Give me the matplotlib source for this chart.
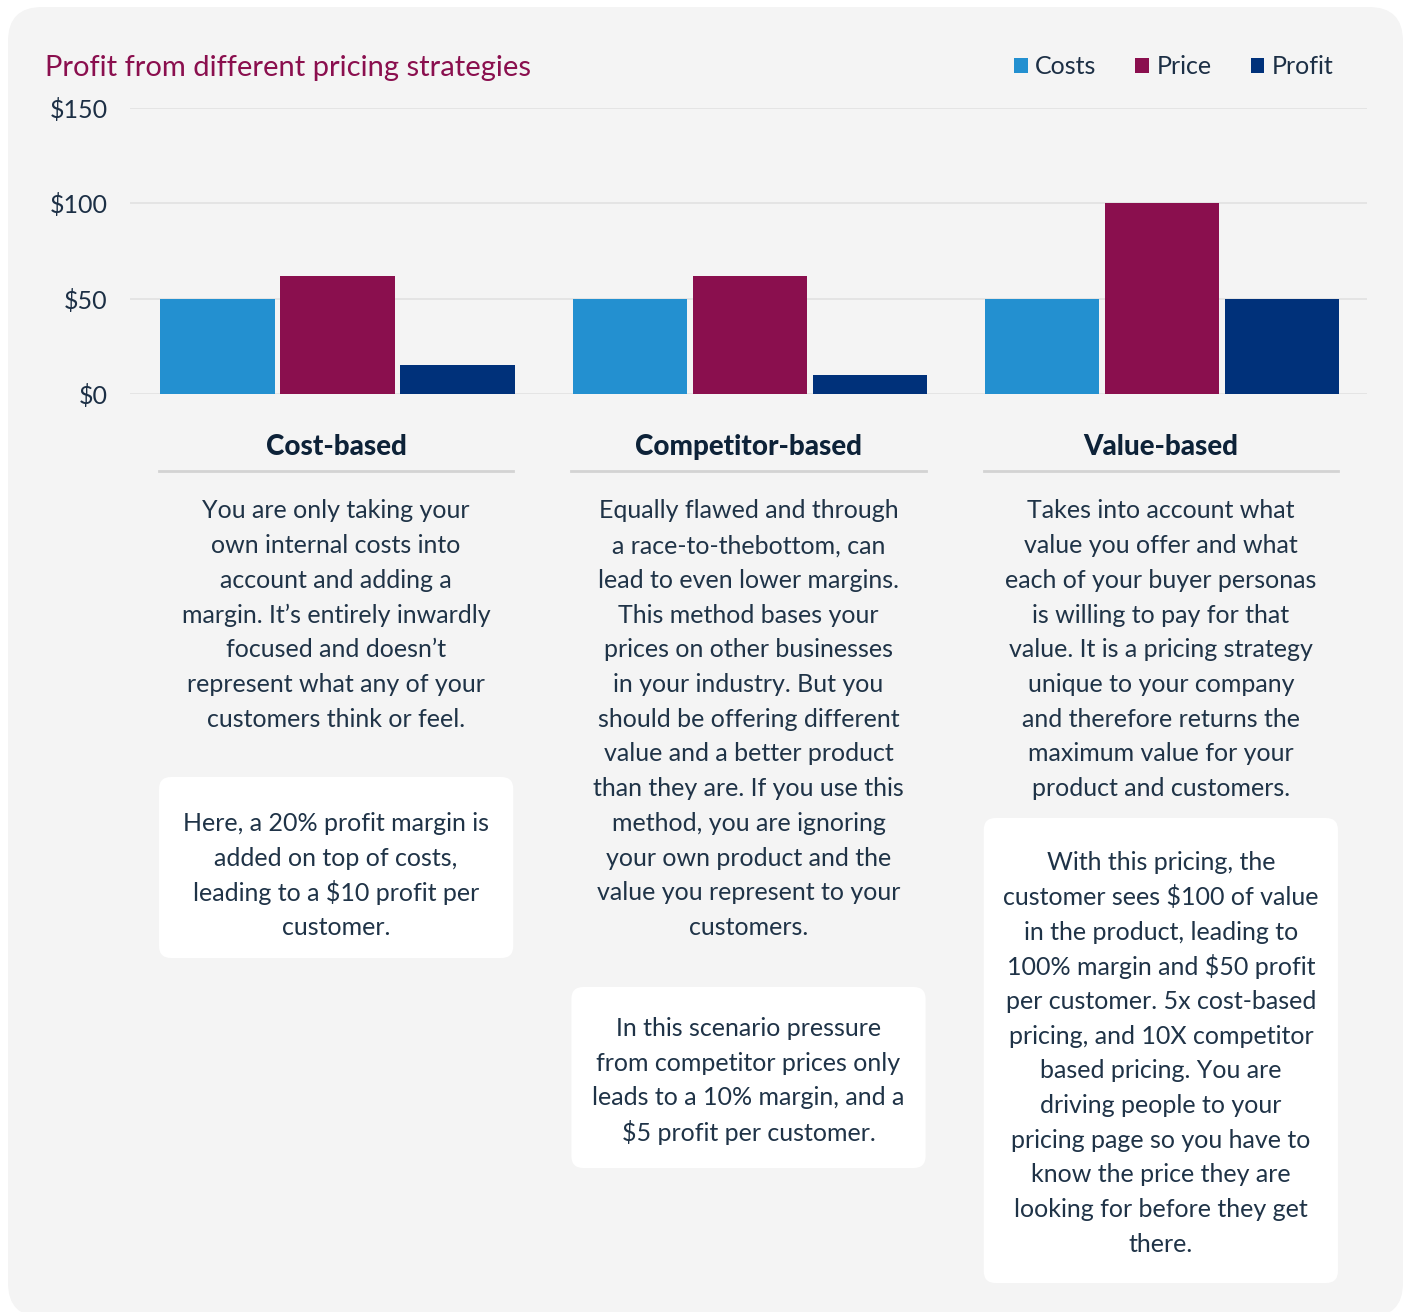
import matplotlib.pyplot as plt
import numpy as np
from matplotlib.patches import FancyBboxPatch

plt.rcParams['font.family'] = ['Lato', 'DejaVu Sans']

categories = ['Cost-based', 'Competitor-based', 'Value-based']
costs = [50, 50, 50]
price = [62, 62, 100]
profit = [15, 10, 50]
series_names = ['Costs', 'Price', 'Profit']
series_colors = ['#2390d0', '#8a0f4e', '#00317a']
yticks = [0, 50, 100, 150]

descriptions = [
    ["You are only taking your", "own internal costs into", "account and adding a",
     "margin. It’s entirely inwardly", "focused and doesn’t",
     "represent what any of your", "customers think or feel."],
    ["Equally flawed and through", "a race-to-thebottom, can", "lead to even lower margins.",
     "This method bases your", "prices on other businesses", "in your industry. But you",
     "should be offering different", "value and a better product",
     "than they are. If you use this", "method, you are ignoring",
     "your own product and the", "value you represent to your", "customers."],
    ["Takes into account what", "value you offer and what", "each of your buyer personas",
     "is willing to pay for that", "value. It is a pricing strategy",
     "unique to your company", "and therefore returns the",
     "maximum value for your", "product and customers."],
]
notes = [
    ["Here, a 20% profit margin is", "added on top of costs,",
     "leading to a $10 profit per", "customer."],
    ["In this scenario pressure", "from competitor prices only",
     "leads to a 10% margin, and a", "$5 profit per customer."],
    ["With this pricing, the", "customer sees $100 of value", "in the product, leading to",
     "100% margin and $50 profit", "per customer. 5x cost-based",
     "pricing, and 10X competitor", "based pricing. You are",
     "driving people to your", "pricing page so you have to",
     "know the price they are", "looking for before they get", "there."],
]

W, H = 1408, 1312
fig = plt.figure(figsize=(W / 100, H / 100), dpi=100)
fig.patch.set_facecolor('white')

# background layer in pixel coordinates (y down)
bg = fig.add_axes([0, 0, 1, 1], zorder=0)
bg.set_xlim(0, W)
bg.set_ylim(H, 0)
bg.axis('off')
bg.add_patch(FancyBboxPatch((8, 7), 1395, 1310, boxstyle='round,pad=0,rounding_size=34',
                            fc='#f4f4f4', ec='none'))

ax = fig.add_axes([130 / W, 1 - 394 / H, 1237 / W, 286 / H], zorder=1)
ax.patch.set_alpha(0)
x = np.arange(len(categories))
bw, step = 0.277, 0.291
for k, (vals, name, col) in enumerate(zip([costs, price, profit], series_names, series_colors)):
    ax.bar(x + (k - 1) * step + 0.003, vals, bw, color=col, label=name, zorder=3)
ax.set_xlim(-0.5, 2.5)
ax.set_ylim(0, 150)
ax.set_yticks(yticks)
ax.set_yticklabels([f'${v}' for v in yticks], fontsize=18, color='#1c2f45')
ax.tick_params(axis='y', length=0, pad=16)
ax.set_xticks([])
ax.grid(axis='y', color='#e1e1e1', lw=1.2, zorder=0)
for s in ax.spines.values():
    s.set_visible(False)

fig.text(45 / W, 1 - 68 / H, 'Profit from different pricing strategies', fontsize=21,
         color='#8a0f4e', va='center', ha='left')
fig.legend(loc='upper right', bbox_to_anchor=(1356 / W, 1 - 33 / H), ncol=3, frameon=False,
           fontsize=18, handlelength=0.55, handleheight=0.55, handletextpad=0.3,
           columnspacing=1.55, labelcolor='#1c2f45')

fig.canvas.draw()


def px(xd):
    # data x -> background pixel x
    return ax.transData.transform((xd, 0))[0]


lh = 34.7
text_col = '#1f3347'
note_tops = [777, 987, 818]
note_bottoms = [958, 1168, 1283]
note_shift = [8, 3, 3]
for i, cat in enumerate(categories):
    left = px(i - step - bw / 2)
    right = px(i + step + bw / 2)
    cx = px(i)
    bg.text(cx, 447, cat, ha='center', va='center', fontsize=20, fontweight='black',
            color='#0d2238', zorder=3)
    bg.plot([left, right], [471, 471], color='#d3d3d3', lw=2, zorder=3)
    for j, line in enumerate(descriptions[i]):
        bg.text(cx, 511 + j * lh, line, ha='center', va='center', fontsize=18,
                color=text_col, parse_math=False, zorder=3)
    top, bot = note_tops[i], note_bottoms[i]
    bg.add_patch(FancyBboxPatch((left, top), right - left, bot - top,
                                boxstyle='round,pad=0,rounding_size=12',
                                fc='white', ec='none', zorder=2))
    n = len(notes[i])
    mid = (top + bot) / 2 + note_shift[i]
    for j, line in enumerate(notes[i]):
        bg.text(cx, mid + (j - (n - 1) / 2) * lh, line, ha='center', va='center',
                fontsize=18, color=text_col, parse_math=False, zorder=3)

fig.savefig('out.png', dpi=100)
